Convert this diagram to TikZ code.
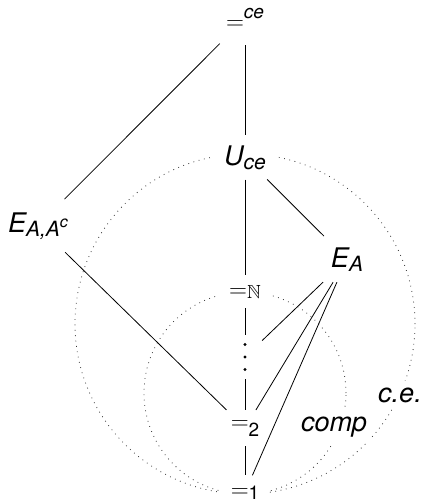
\documentclass[tikz,border=0pt]{standalone}
\usepackage{amssymb}
\usepackage[no-math]{fontspec}
\setmainfont{TeX Gyre Heros}
\newcommand\mainsz{\fontsize{27pt}{30pt}\selectfont}
\newcommand\subsz{\fontsize{21pt}{23pt}\selectfont}
\newcommand\eqsz{\fontsize{19pt}{21pt}\selectfont}
\newcommand\eqsign{{\fontsize{25pt}{28pt}\selectfont$=$}}
\newcommand\lsub[1]{\raisebox{-4pt}{\subsz\itshape #1}}
\newcommand\eqsub[2][-7pt]{\raisebox{#1}{\eqsz #2}}
\begin{document}
\begin{tikzpicture}[x=1pt,y=-1pt,
  lbl/.style={anchor=base,fill=white,inner sep=10pt,font=\mainsz},
  conn/.style={line width=0.8pt},
  ring/.style={line width=0.8pt,dash pattern=on 0.8pt off 4.6pt,black!80}]
\useasboundingbox (0,0) rectangle (422,504);
% dotted regions
\draw[ring] (245,324) circle[radius=170pt];
\draw[ring] (245,393) circle[radius=101pt];
% nodes
\node[lbl,inner xsep=6pt,inner ysep=16pt] (top) at (245,29) {\eqsign\raisebox{11pt}{\eqsz\itshape ce}};
\node[lbl] (U) at (245,165) {\itshape U\lsub{ce}};
\node[lbl,inner sep=13pt] (EAAc) at (38,232) {\itshape E\lsub{A,A\raisebox{9pt}{\fontsize{16pt}{18pt}\selectfont c}}};
\node[lbl,inner sep=11pt] (EA) at (347,267) {\itshape E\lsub{A}};
\node[lbl] (N) at (245,297) {\eqsign\raisebox{-1pt}{\eqsz$\mathbb{N}$}};
\node[inner sep=0pt,minimum width=34pt,minimum height=44pt] (dots) at (245,357) {};
\foreach \k in {-12.5,0,12.5} \fill ([yshift=\k pt]dots.center) circle[radius=1.7pt];
\node[lbl] (two) at (245,429) {\eqsign\eqsub{2}};
\node[lbl] (one) at (245,497) {\eqsign\eqsub[-2pt]{1}};
\node[lbl,inner xsep=4pt,inner ysep=6pt] (comp) at (334,431) {\itshape comp};
\node[lbl,inner sep=6pt] (ce) at (400,402) {\itshape c.e.};
% connectors
\draw[conn] (top) -- (U);
\draw[conn] (top) -- (EAAc);
\draw[conn] (U) -- (EA);
\draw[conn] (U) -- (N);
\draw[conn] (N) -- (dots);
\draw[conn] (dots) -- (two);
\draw[conn] (two) -- (one);
\draw[conn] (EAAc) -- (two);
\draw[conn] (EA) -- (dots);
\draw[conn] (EA) -- (two);
\draw[conn] (EA) -- (one);
\end{tikzpicture}
\end{document}
